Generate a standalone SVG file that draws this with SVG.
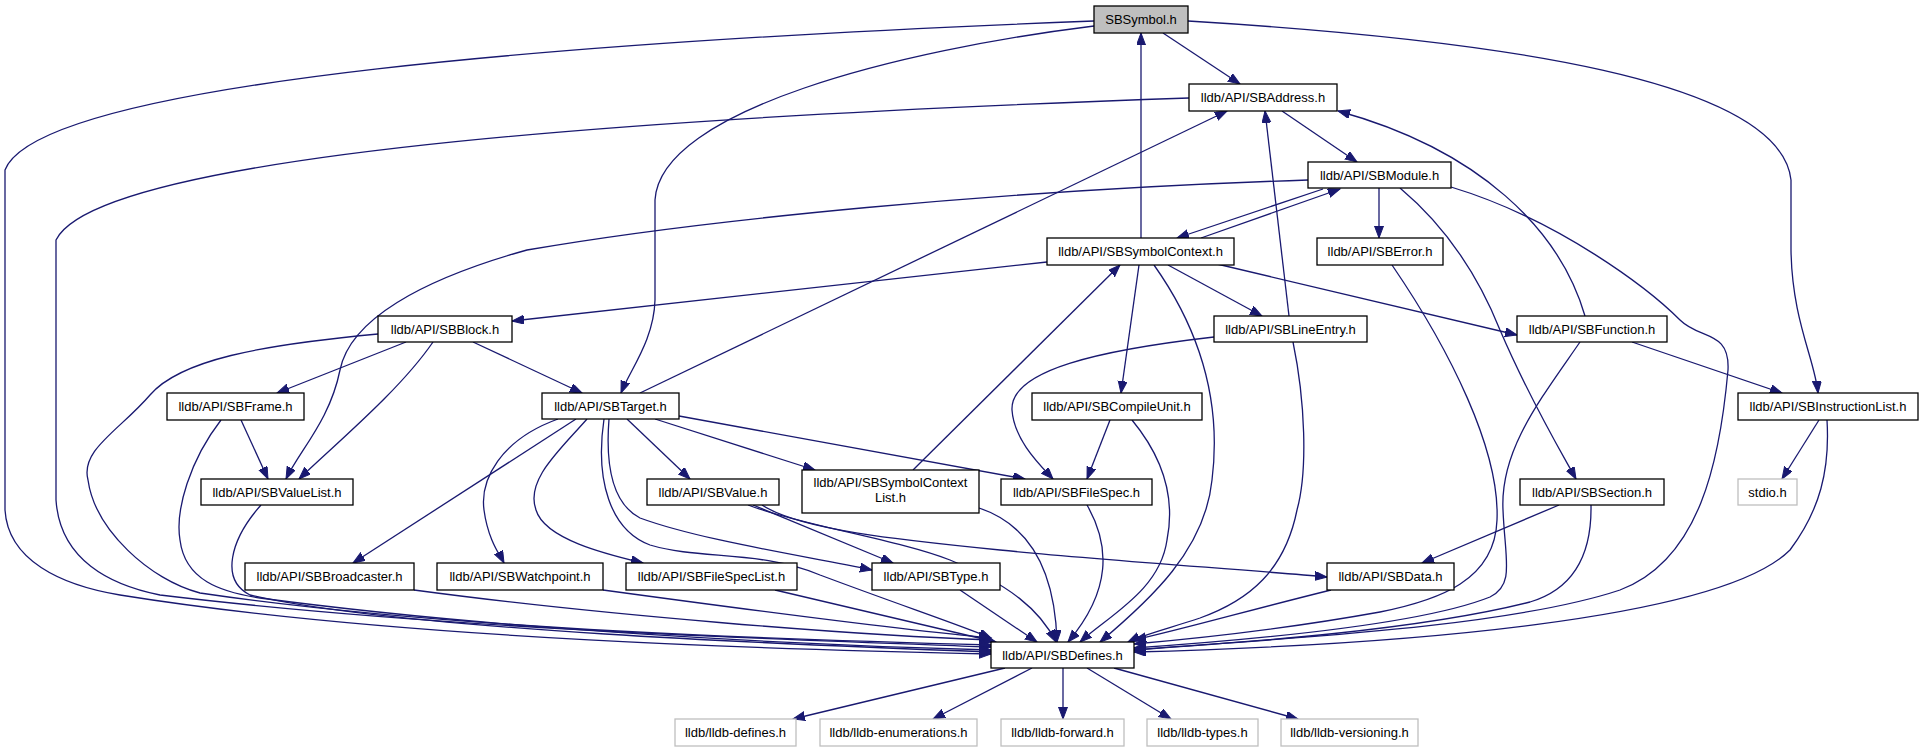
<svg xmlns="http://www.w3.org/2000/svg" width="1923" height="752" viewBox="0 0 1923 752">
<style>
.n rect{fill:#fff;stroke:#000;stroke-width:1.3}
.n.hl rect{fill:#bfbfbf}
.n.ext rect{stroke:#bfbfbf}
.n text{font-family:"Liberation Sans",Arial,sans-serif;font-size:13px;fill:#000;text-anchor:middle}
#edges path{fill:none;stroke:#191970;stroke-width:1.3;marker-end:url(#ah)}
</style>
<defs>
<marker id="ah" markerUnits="userSpaceOnUse" markerWidth="14" markerHeight="11" refX="12" refY="4.5" orient="auto">
<path d="M0,0 L12,4.5 L0,9 z" fill="#191970" stroke="#191970" stroke-width="1"/>
</marker>
</defs>
<rect width="1923" height="752" fill="#fff"/>
<g id="edges">
<path d="M1163,33 L1240,84"/>
<path d="M1094,26 C900,50 660,110 655,200 L655,300 C654,340 630,370 621,393"/>
<path d="M1094,21 C600,40 40,80 5,170 L5,510 C8,560 60,585 120,595 C400,640 800,650 991,654"/>
<path d="M1188,21 C1500,40 1780,80 1791,180 L1791,250 C1792,320 1815,360 1818,393"/>
<path d="M1141,238 L1141,33"/>
<path d="M1282,111 L1357,162"/>
<path d="M1189,98 C700,115 100,150 56,240 L56,500 C60,560 110,585 160,595 C450,630 800,640 991,647"/>
<path d="M640,393 L1227,111"/>
<path d="M1289,316 L1265,111"/>
<path d="M1585,316 C1560,230 1480,150 1338,111"/>
<path d="M1323,189 L1177,238"/>
<path d="M1201,238 L1340,189"/>
<path d="M1379,188 L1379,238"/>
<path d="M1308,180 C1000,190 700,220 527,250 C420,280 350,320 340,370 C330,420 300,450 286,479"/>
<path d="M1400,188 C1450,230 1480,280 1500,330 C1530,400 1560,450 1576,479"/>
<path d="M1451,187 C1560,220 1650,290 1680,320 C1700,340 1730,330 1728,370 C1720,460 1700,560 1620,590 C1500,630 1250,640 1134,650"/>
<path d="M1047,262 L512,321"/>
<path d="M1139,265 L1121,393"/>
<path d="M1168,265 L1262,316"/>
<path d="M1217,264 L1517,335"/>
<path d="M1154,265 C1200,330 1222,400 1212,480 C1205,550 1150,600 1100,642"/>
<path d="M1392,265 C1450,350 1500,450 1497,520 C1495,580 1440,600 1380,612 C1280,630 1180,640 1134,644"/>
<path d="M406,342 L277,393"/>
<path d="M473,342 L582,393"/>
<path d="M433,342 C400,390 340,440 299,479"/>
<path d="M378,334 C260,345 180,360 150,395 C120,430 80,450 88,480 C95,530 150,580 200,593 C450,630 800,640 991,645"/>
<path d="M1214,337 C1100,350 1010,370 1012,410 C1014,440 1040,465 1053,479"/>
<path d="M1293,342 C1305,400 1308,470 1297,510 C1285,570 1250,600 1200,618 C1170,628 1145,634 1128,642"/>
<path d="M1632,342 L1782,393"/>
<path d="M1580,342 C1540,400 1500,450 1503,510 C1505,560 1515,585 1490,597 C1420,625 1250,640 1134,648"/>
<path d="M241,420 L268,479"/>
<path d="M221,420 C190,460 175,510 180,540 C185,580 220,592 260,598 C500,630 800,645 991,650"/>
<path d="M576,419 L353,563"/>
<path d="M558,419 C500,440 480,480 484,510 C488,540 500,555 504,563"/>
<path d="M587,419 C560,450 525,480 536,510 C545,540 610,555 643,563"/>
<path d="M627,419 L690,479"/>
<path d="M655,419 L815,470"/>
<path d="M679,416 L1025,479"/>
<path d="M609,419 C605,470 615,505 640,518 C700,540 800,555 872,570"/>
<path d="M604,419 C595,480 610,530 650,545 C700,560 760,550 820,575 C900,605 960,625 991,638"/>
<path d="M753,505 L893,563"/>
<path d="M762,505 C800,530 900,540 1000,550 C1100,560 1250,570 1327,577"/>
<path d="M748,505 C800,525 900,540 950,560 C1010,585 1040,610 1056,642"/>
<path d="M913,470 L1120,265"/>
<path d="M979,508 C1030,525 1055,570 1057,642"/>
<path d="M1087,505 C1110,545 1112,590 1068,642"/>
<path d="M1110,420 L1087,479"/>
<path d="M1132,420 C1165,460 1175,500 1167,540 C1160,590 1110,615 1080,642"/>
<path d="M1819,420 L1782,479"/>
<path d="M1827,420 C1830,470 1820,510 1790,550 C1720,620 1400,645 1134,652"/>
<path d="M1559,505 L1422,563"/>
<path d="M1591,505 C1592,560 1570,590 1530,602 C1420,630 1250,642 1134,650"/>
<path d="M261,505 C230,540 220,580 250,595 C400,630 800,645 991,652"/>
<path d="M414,590 C600,615 850,635 991,640"/>
<path d="M603,590 C750,610 900,630 991,638"/>
<path d="M775,590 L996,642"/>
<path d="M960,590 L1037,642"/>
<path d="M1331,590 C1250,610 1180,630 1134,640"/>
<path d="M1005,668 L793,719"/>
<path d="M1032,668 L933,719"/>
<path d="M1063,668 L1063,719"/>
<path d="M1087,668 L1171,719"/>
<path d="M1114,668 L1298,719"/>
</g>
<g id="n_SBSymbol" class="n hl"><rect x="1094" y="6" width="94" height="27"/><text x="1141" y="24">SBSymbol.h</text></g>
<g id="n_SBAddress" class="n"><rect x="1189" y="84" width="148" height="27"/><text x="1263" y="102">lldb/API/SBAddress.h</text></g>
<g id="n_SBModule" class="n"><rect x="1308" y="162" width="143" height="26"/><text x="1379.5" y="179.5">lldb/API/SBModule.h</text></g>
<g id="n_SBSymbolContext" class="n"><rect x="1047" y="238" width="187" height="27"/><text x="1140.5" y="256">lldb/API/SBSymbolContext.h</text></g>
<g id="n_SBError" class="n"><rect x="1317" y="238" width="126" height="27"/><text x="1380" y="256">lldb/API/SBError.h</text></g>
<g id="n_SBBlock" class="n"><rect x="378" y="316" width="134" height="26"/><text x="445" y="333.5">lldb/API/SBBlock.h</text></g>
<g id="n_SBLineEntry" class="n"><rect x="1214" y="316" width="153" height="26"/><text x="1290.5" y="333.5">lldb/API/SBLineEntry.h</text></g>
<g id="n_SBFunction" class="n"><rect x="1517" y="316" width="150" height="26"/><text x="1592" y="333.5">lldb/API/SBFunction.h</text></g>
<g id="n_SBFrame" class="n"><rect x="167" y="393" width="137" height="27"/><text x="235.5" y="411">lldb/API/SBFrame.h</text></g>
<g id="n_SBTarget" class="n"><rect x="542" y="393" width="137" height="26"/><text x="610.5" y="410.5">lldb/API/SBTarget.h</text></g>
<g id="n_SBCompileUnit" class="n"><rect x="1032" y="393" width="170" height="27"/><text x="1117" y="411">lldb/API/SBCompileUnit.h</text></g>
<g id="n_SBInstructionList" class="n"><rect x="1738" y="393" width="180" height="27"/><text x="1828" y="411">lldb/API/SBInstructionList.h</text></g>
<g id="n_SBValueList" class="n"><rect x="201" y="479" width="152" height="26"/><text x="277" y="496.5">lldb/API/SBValueList.h</text></g>
<g id="n_SBValue" class="n"><rect x="647" y="479" width="132" height="26"/><text x="713" y="496.5">lldb/API/SBValue.h</text></g>
<g id="n_SBSymbolContextList" class="n"><rect x="802" y="470" width="177" height="43"/><text x="890.5" y="487">lldb/API/SBSymbolContext</text><text x="890.5" y="502">List.h</text></g>
<g id="n_SBFileSpec" class="n"><rect x="1001" y="479" width="151" height="26"/><text x="1076.5" y="496.5">lldb/API/SBFileSpec.h</text></g>
<g id="n_SBSection" class="n"><rect x="1520" y="479" width="144" height="26"/><text x="1592" y="496.5">lldb/API/SBSection.h</text></g>
<g id="n_stdio" class="n ext"><rect x="1738" y="479" width="59" height="26"/><text x="1767.5" y="496.5">stdio.h</text></g>
<g id="n_SBBroadcaster" class="n"><rect x="245" y="563" width="169" height="27"/><text x="329.5" y="581">lldb/API/SBBroadcaster.h</text></g>
<g id="n_SBWatchpoint" class="n"><rect x="437" y="563" width="166" height="27"/><text x="520" y="581">lldb/API/SBWatchpoint.h</text></g>
<g id="n_SBFileSpecList" class="n"><rect x="626" y="563" width="171" height="27"/><text x="711.5" y="581">lldb/API/SBFileSpecList.h</text></g>
<g id="n_SBType" class="n"><rect x="872" y="563" width="128" height="27"/><text x="936" y="581">lldb/API/SBType.h</text></g>
<g id="n_SBData" class="n"><rect x="1327" y="563" width="127" height="27"/><text x="1390.5" y="581">lldb/API/SBData.h</text></g>
<g id="n_SBDefines" class="n"><rect x="991" y="642" width="143" height="26"/><text x="1062.5" y="659.5">lldb/API/SBDefines.h</text></g>
<g id="n_lldb_defines" class="n ext"><rect x="675" y="719" width="121" height="27"/><text x="735.5" y="737">lldb/lldb-defines.h</text></g>
<g id="n_lldb_enumerations" class="n ext"><rect x="820" y="719" width="157" height="27"/><text x="898.5" y="737">lldb/lldb-enumerations.h</text></g>
<g id="n_lldb_forward" class="n ext"><rect x="1001" y="719" width="123" height="27"/><text x="1062.5" y="737">lldb/lldb-forward.h</text></g>
<g id="n_lldb_types" class="n ext"><rect x="1147" y="719" width="111" height="27"/><text x="1202.5" y="737">lldb/lldb-types.h</text></g>
<g id="n_lldb_versioning" class="n ext"><rect x="1281" y="719" width="137" height="27"/><text x="1349.5" y="737">lldb/lldb-versioning.h</text></g>
</svg>
